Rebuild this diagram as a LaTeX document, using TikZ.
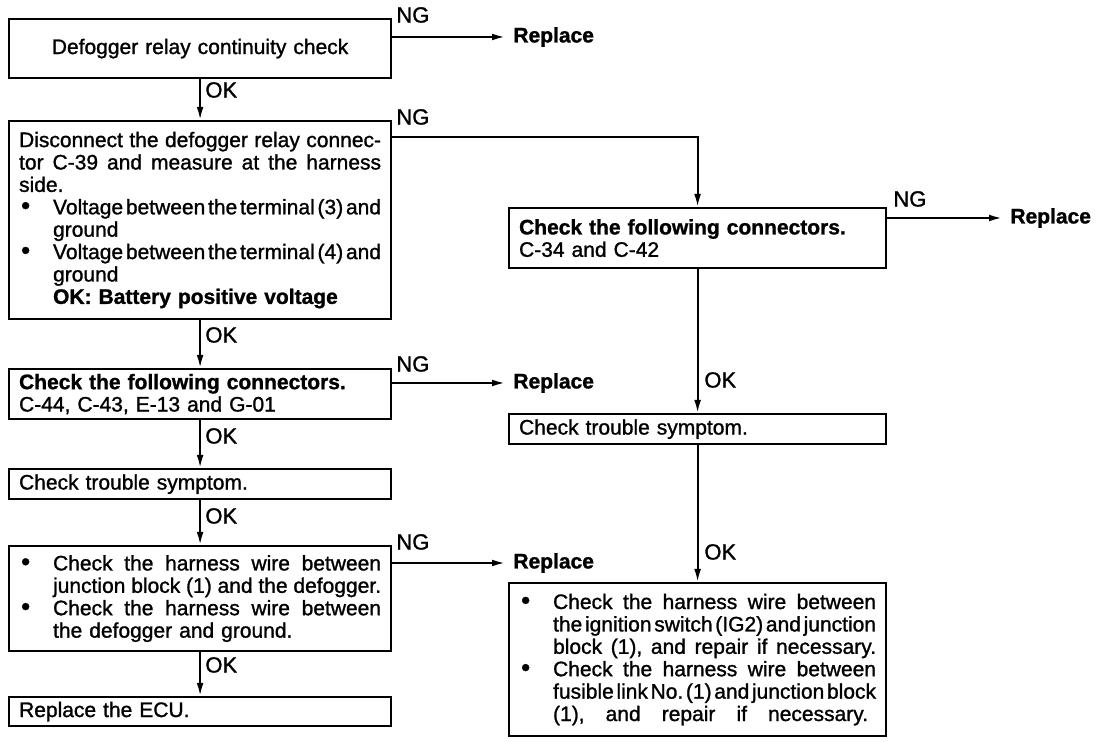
\documentclass[tikz,border=0pt]{standalone}
\usepackage{fontspec}
\setmainfont{Liberation Sans}[FakeBold=1.2]
\usetikzlibrary{arrows.meta}
\frenchspacing
\newlength\bi \setlength\bi{17pt}
\newcommand\sk{\spaceskip=0.278em plus 0.4em minus 0.24em\relax}
\newcommand\boxfont{\fontsize{10.5}{11.2}\selectfont\parskip=0pt\relax}
\newcommand\jl[1]{\leavevmode\hbox to\hsize{\sk #1}\par}
\newcommand\ijl[1]{\leavevmode\hbox to\hsize{\sk\hspace*{\bi}#1}\par}
\newcommand\ijls[2]{\leavevmode\hbox to\dimexpr\hsize-#1\relax{\sk\hspace*{\bi}#2}\par}
\newcommand\bul{\makebox[\bi][l]{\hspace*{1pt}\smash{\raisebox{0pt}{\fontsize{13}{13}\selectfont\char"2022}}}}
\newcommand\bl[1]{\leavevmode\hbox to\hsize{\sk\bul#1}\par}
\newcommand\il[1]{\leavevmode\hspace*{\bi}#1\par}
\newcommand\pl[1]{\leavevmode#1\par}
\begin{document}
\begin{tikzpicture}[x=0.5pt,y=-0.5pt,
  every node/.style={inner sep=0pt},
  box/.style={draw,line width=1.1pt,anchor=north west,inner xsep=5pt,inner ysep=0pt,font=\boxfont},
  lbox/.style={box,text width=181pt,minimum width=191pt},
  rbox/.style={box,text width=178.5pt,minimum width=188.5pt},
  flow/.style={line width=1pt,-{Latex[length=6.5pt,width=3.4pt]}},
  lab/.style={font=\fontsize{11}{12}\selectfont,anchor=west},
  rep/.style={font=\bfseries\fontsize{10.5}{12}\selectfont,anchor=west}]
\fill[white] (0,0) rectangle (1104,742);
\useasboundingbox (0,0) rectangle (1104,742);

% left column
\node[lbox,minimum height=29.5pt,align=center] (b1) at (8,18) {Defogger relay continuity check};
\node[lbox,minimum height=99pt] (b2) at (8,120) {\jl{Disconnect the defogger relay connec-}\jl{tor C-39 and measure at the harness}\pl{side.}\bl{Voltage between the terminal (3) and}\il{ground}\bl{Voltage between the terminal (4) and}\il{ground}\il{\textbf{OK: Battery positive voltage}}};
\node[lbox,minimum height=25pt] (b3) at (8,368) {\pl{\textbf{Check the following connectors.}}\pl{C-44, C-43, E-13 and G-01}};
\node[lbox,minimum height=15pt] (b4) at (8,468) {\pl{Check trouble symptom.}};
\node[lbox,minimum height=52.5pt] (b5) at (8,545) {\bl{Check the harness wire between}\ijl{junction block (1) and the defogger.}\bl{Check the harness wire between}\il{the defogger and ground.}};
\node[lbox,minimum height=14.5pt] (b6) at (8,696) {\pl{Replace the ECU.}};

% right column
\node[rbox,minimum height=30pt] (r1) at (508,207) {\pl{\textbf{Check the following connectors.}}\pl{C-34 and C-42}};
\node[rbox,minimum height=15pt] (r2) at (508,413) {\pl{Check trouble symptom.}};
\node[rbox,minimum height=76.5pt] (r3) at (508,582) {\bl{Check the harness wire between}\ijl{the ignition switch (IG2) and junction}\ijl{block (1), and repair if necessary.}\bl{Check the harness wire between}\ijl{fusible link No. (1) and junction block}\ijls{4pt}{(1), and repair if necessary.}};

% Replace labels
\node[rep] (x1) at (513,37) {Replace};
\node[rep] (x2) at (1010,218) {Replace};
\node[rep] (x3) at (513,383) {Replace};
\node[rep] (x4) at (513,563) {Replace};

% NG labels
\node[lab] (g1) at (396,15) {NG};
\node[lab] (g2) at (396,117) {NG};
\node[lab] (g3) at (893,199) {NG};
\node[lab] (g4) at (396,364) {NG};
\node[lab] (g5) at (396,542) {NG};

% OK labels
\node[lab] (k1) at (205,90) {OK};
\node[lab] (k2) at (205,335) {OK};
\node[lab] (k3) at (205,436) {OK};
\node[lab] (k4) at (205,516) {OK};
\node[lab] (k5) at (205,665) {OK};
\node[lab] (k6) at (704,380) {OK};
\node[lab] (k7) at (704,552) {OK};

% connectors
\draw[flow] (b1.east |- x1.west) -- ([xshift=-4pt]x1.west);
\draw[flow] (b1.south) -- (b2.north);
\draw[flow] ([yshift=-8.5pt]b2.north east) -| (r1.north);
\draw[flow] (r1.east |- x2.west) -- ([xshift=-4pt]x2.west);
\draw[flow] (b2.south) -- (b3.north);
\draw[flow] (b3.east |- x3.west) -- ([xshift=-4pt]x3.west);
\draw[flow] (b3.south) -- (b4.north);
\draw[flow] (b4.south) -- (b5.north);
\draw[flow] (b5.east |- x4.west) -- ([xshift=-4pt]x4.west);
\draw[flow] (b5.south) -- (b6.north);
\draw[flow] (r1.south) -- (r2.north);
\draw[flow] (r2.south) -- (r3.north);
\end{tikzpicture}
\end{document}
